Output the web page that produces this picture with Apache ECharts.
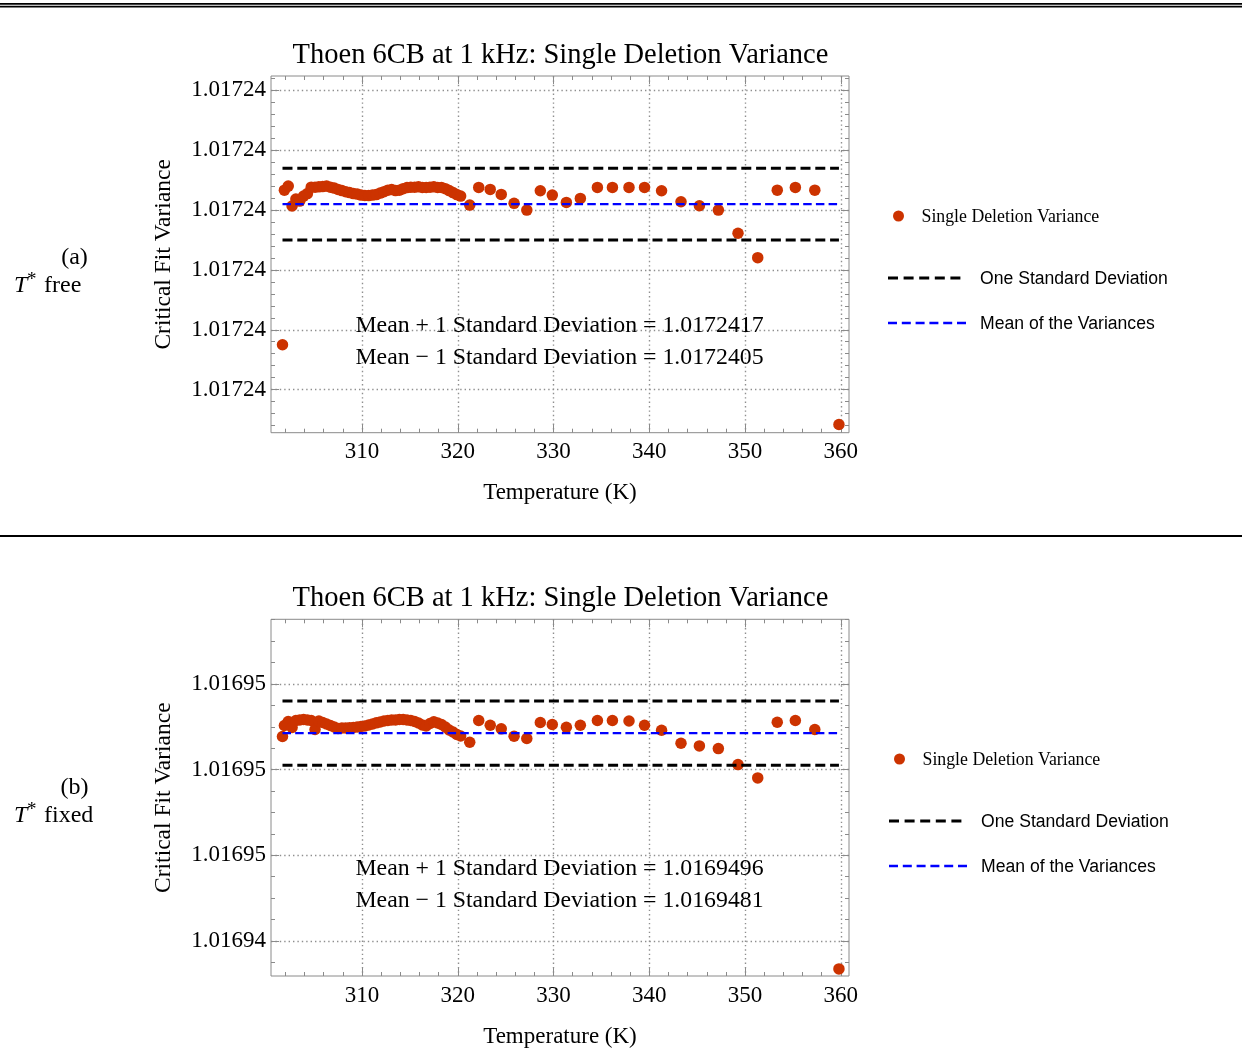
<!DOCTYPE html>
<html>
<head>
<meta charset="utf-8">
<script src="https://cdn.jsdelivr.net/npm/echarts@6/dist/echarts.min.js"></script>
<style>
  html, body { margin: 0; padding: 0; background: #ffffff; }
  #chart { width: 1242px; height: 1053px; }
</style>
</head>
<body>
<div id="chart"></div>
<script>
// Temperatures (K) of the single-deletion runs, shared by both panels
const temps = [
  301.7,
  301.9, 302.3, 302.7, 303.1, 303.5, 303.9, 304.3, 304.7, 305.1, 305.5,
  305.9, 306.3, 306.7, 307.1, 307.5, 307.9, 308.3, 308.7, 309.1, 309.5,
  309.9, 310.3, 310.7, 311.1, 311.5, 311.9, 312.3, 312.7, 313.1, 313.5,
  313.9, 314.3, 314.7, 315.1, 315.5, 315.9, 316.3, 316.7, 317.1, 317.5,
  317.9, 318.3, 318.7, 319.1, 319.5, 319.9, 320.3,
  321.25, 322.19, 323.39, 324.54, 325.88, 327.21, 328.62, 329.87, 331.34, 332.80,
  334.58, 336.15, 337.88, 339.50, 341.28, 343.31, 345.23, 347.21, 349.26, 351.32,
  353.36, 355.25, 357.28, 359.8
];

// (a) T* free: critical fit variance after deleting each point
const varianceFree = [
  1.017238750,
  1.017241333, 1.017241400, 1.017241067, 1.017241183, 1.017241150, 1.017241233, 1.017241275, 1.017241383, 1.017241383, 1.017241388,
  1.017241392, 1.017241400, 1.017241383, 1.017241367, 1.017241345, 1.017241325, 1.017241308, 1.017241292, 1.017241275, 1.017241267,
  1.017241250, 1.017241245, 1.017241242, 1.017241250, 1.017241258, 1.017241283, 1.017241308, 1.017241333, 1.017241342, 1.017241325,
  1.017241333, 1.017241358, 1.017241375, 1.017241383, 1.017241383, 1.017241388, 1.017241378, 1.017241378, 1.017241383, 1.017241388,
  1.017241378, 1.017241378, 1.017241358, 1.017241325, 1.017241292, 1.017241258, 1.017241233,
  1.017241083, 1.017241378, 1.017241345, 1.017241262, 1.017241112, 1.017241000, 1.017241322, 1.017241250, 1.017241128, 1.017241195,
  1.017241378, 1.017241378, 1.017241378, 1.017241378, 1.017241322, 1.017241138, 1.017241072, 1.017241000, 1.017240612, 1.017240205,
  1.017241333, 1.017241378, 1.017241333, 1.017237417
];

// (b) T* fixed
const varianceFixed = [
  1.016948772,
  1.016949029, 1.016949123, 1.016948982, 1.016949146, 1.016949158, 1.016949170, 1.016949158, 1.016949146, 1.016948936, 1.016949135,
  1.016949099, 1.016949064, 1.016949029, 1.016948994, 1.016948959, 1.016948971, 1.016948971, 1.016948975, 1.016948982, 1.016948994,
  1.016949006, 1.016949018, 1.016949041, 1.016949064, 1.016949092, 1.016949111, 1.016949135, 1.016949146, 1.016949158, 1.016949158,
  1.016949170, 1.016949170, 1.016949158, 1.016949146, 1.016949123, 1.016949088, 1.016949041, 1.016949018, 1.016949076, 1.016949116,
  1.016949088, 1.016949053, 1.016948994, 1.016948924, 1.016948877, 1.016948819, 1.016948784,
  1.016948639, 1.016949146, 1.016949036, 1.016948952, 1.016948779, 1.016948725, 1.016949099, 1.016949053, 1.016948989, 1.016949036,
  1.016949146, 1.016949146, 1.016949135, 1.016949036, 1.016948919, 1.016948615, 1.016948554, 1.016948491, 1.016948117, 1.016947806,
  1.016949106, 1.016949146, 1.016948936, 1.016943345
];

// Mean +/- one standard deviation
const sdBoundsFree = [1.0172417, 1.0172405];
const sdBoundsFixed = [1.0169496, 1.0169481];

// Tick values
const tempTicks = [310, 320, 330, 340, 350, 360];
const varianceTicksFree = [1.017238, 1.017239, 1.017240, 1.017241, 1.017242, 1.017243];
const varianceTicksFixed = [1.016944, 1.016946, 1.016948, 1.016950];

const SERIF = '"Liberation Serif", "Times New Roman", serif';
const SANS = '"Liberation Sans", Arial, sans-serif';
const RED = '#cc3300';
const FRAME = '#8a8a8a';
const X_MIN = 300.5, X_MAX = 360.85;

// minor tick positions between the labelled ticks
function subTicks(major, parts, lo, hi) {
  const step = (major[1] - major[0]) / parts;
  const out = [];
  const start = major[0] - Math.floor((major[0] - lo) / step) * step;
  for (let v = start; v <= hi + step * 1e-6; v += step) {
    const k = Math.round((v - major[0]) / step);
    if (k % parts !== 0) out.push(+v.toPrecision(12));
  }
  return out;
}

const panels = [
  { top: 76, height: 356.7, yMin: 1.01723728, yMax: 1.01724324, values: varianceFree,
    bounds: sdBoundsFree, yTicks: varianceTicksFree, ySub: 5 },
  { top: 619.3, height: 356.7, yMin: 1.01694318, yMax: 1.01695151, values: varianceFixed,
    bounds: sdBoundsFixed, yTicks: varianceTicksFixed, ySub: 4 }
];

const dots = { color: '#8f8f8f', width: 1.4, type: [1.4, 3] };
const tempMinor = subTicks(tempTicks, 5, X_MIN, X_MAX);

const grid = [], xAxis = [], yAxis = [], series = [];

panels.forEach((p, g) => {
  grid.push({ left: 271, top: p.top, width: 578, height: p.height, show: true,
    borderColor: FRAME, borderWidth: 1, backgroundColor: 'transparent', containLabel: false,
    outerBoundsMode: 'none' });

  const yMinor = subTicks(p.yTicks, p.ySub, p.yMin, p.yMax);
  const tickStyle = { color: FRAME, width: 1 };

  const xb = { gridIndex: g, type: 'value', min: X_MIN, max: X_MAX,
    axisLine: { show: false }, splitLine: { show: false }, axisLabel: { show: false } };
  xAxis.push(
    Object.assign({}, xb, { position: 'bottom',
      axisTick: { show: true, inside: true, length: 8, customValues: tempTicks, lineStyle: tickStyle },
      axisLabel: { show: true, customValues: tempTicks, margin: 8, fontFamily: SERIF, fontSize: 23, color: '#000' },
      splitLine: { show: true, lineStyle: dots },
      name: 'Temperature (K)', nameLocation: 'middle', nameGap: 49, nameMoveOverlap: false,
      nameTextStyle: { fontFamily: SERIF, fontSize: 23, color: '#000' } }),
    Object.assign({}, xb, { position: 'bottom',
      axisTick: { show: true, inside: true, length: 4, customValues: tempMinor, lineStyle: tickStyle } }),
    Object.assign({}, xb, { position: 'top',
      axisTick: { show: true, inside: true, length: 8, customValues: tempTicks, lineStyle: tickStyle } }),
    Object.assign({}, xb, { position: 'top',
      axisTick: { show: true, inside: true, length: 4, customValues: tempMinor, lineStyle: tickStyle } })
  );

  const yb = { gridIndex: g, type: 'value', min: p.yMin, max: p.yMax, scale: true,
    axisLine: { show: false }, splitLine: { show: false }, axisLabel: { show: false } };
  yAxis.push(
    Object.assign({}, yb, { position: 'left',
      axisTick: { show: true, inside: true, length: 8, customValues: p.yTicks, lineStyle: tickStyle },
      axisLabel: { show: true, customValues: p.yTicks, margin: 5, fontFamily: SERIF, fontSize: 23, color: '#000',
        formatter: v => Number(v).toFixed(5) },
      splitLine: { show: true, lineStyle: dots },
      name: 'Critical Fit Variance', nameLocation: 'middle', nameGap: 95, nameMoveOverlap: false,
      nameTextStyle: { fontFamily: SERIF, fontSize: 23.5, color: '#000' } }),
    Object.assign({}, yb, { position: 'left',
      axisTick: { show: true, inside: true, length: 4, customValues: yMinor, lineStyle: tickStyle } }),
    Object.assign({}, yb, { position: 'right',
      axisTick: { show: true, inside: true, length: 8, customValues: p.yTicks, lineStyle: tickStyle } }),
    Object.assign({}, yb, { position: 'right',
      axisTick: { show: true, inside: true, length: 4, customValues: yMinor, lineStyle: tickStyle } })
  );

  const ax = { xAxisIndex: 4 * g, yAxisIndex: 4 * g };
  const t0 = temps[0], t1 = temps[temps.length - 1];
  const mean = (p.bounds[0] + p.bounds[1]) / 2;

  series.push(Object.assign({ type: 'scatter', name: 'Single Deletion Variance', symbol: 'circle',
    symbolSize: 11.5, itemStyle: { color: RED, opacity: 1 }, z: 2, silent: true,
    data: temps.map((t, i) => [t, p.values[i]]) }, ax));

  p.bounds.forEach(b => {
    series.push(Object.assign({ type: 'line', name: 'One Standard Deviation', showSymbol: false, z: 3, silent: true,
      lineStyle: { color: '#000', width: 3, type: [10, 4.8] }, data: [[t0, b], [t1, b]] }, ax));
  });
  series.push(Object.assign({ type: 'line', name: 'Mean of the Variances', showSymbol: false, z: 4, silent: true,
    lineStyle: { color: '#0000ff', width: 2.3, type: [8.5, 4.2] }, data: [[t0, mean], [t1, mean]] }, ax));
});

function txt(text, x, y, font, align, extra) {
  return Object.assign({ type: 'text', silent: true, z: 10,
    style: { text: text, x: x, y: y, font: font, fill: '#000',
      align: align || 'left', verticalAlign: 'middle',
      textAlign: align || 'left', textVerticalAlign: 'middle' } }, extra || {});
}

const graphic = [
  { type: 'rect', silent: true, shape: { x: 0, y: 3, width: 1242, height: 1.7 }, style: { fill: '#000' } },
  { type: 'rect', silent: true, shape: { x: 0, y: 5.8, width: 1242, height: 1.6 }, style: { fill: '#000' } },
  { type: 'rect', silent: true, shape: { x: 0, y: 535, width: 1242, height: 1.9 }, style: { fill: '#000' } }
];

const panelText = [
  { dy: 0, dx: 0, tag: '(a)', mode: 'free', p: panels[0] },
  { dy: 543, dx: 1, tag: '(b)', mode: 'fixed', p: panels[1] }
];
const sideDy = [0, 530];

panelText.forEach((q, i) => {
  const dy = q.dy, dx = q.dx, sy = sideDy[i];
  graphic.push(txt('Thoen 6CB at 1 kHz: Single Deletion Variance', 560.5, 55.5 + dy, '28.5px ' + SERIF, 'center'));
  graphic.push(txt('Mean + 1 Standard Deviation = ' + q.p.bounds[0].toFixed(7), 559.5, 326 + dy, '23.8px ' + SERIF, 'center'));
  graphic.push(txt('Mean \u2212 1 Standard Deviation = ' + q.p.bounds[1].toFixed(7), 559.5, 357.5 + dy, '23.8px ' + SERIF, 'center'));

  graphic.push(txt(q.tag, 74.5, 258 + sy, '24px ' + SERIF, 'center'));
  graphic.push(txt('T', 14, 286 + sy, 'italic 24px ' + SERIF, 'left'));
  graphic.push(txt('*', 27, 280 + sy, '19px ' + SERIF, 'left'));
  graphic.push(txt(q.mode, 44, 286 + sy, '24px ' + SERIF, 'left'));

  // legend
  graphic.push({ type: 'circle', silent: true, shape: { cx: 898.5 + dx, cy: 216 + dy, r: 5.5 }, style: { fill: RED } });
  graphic.push(txt('Single Deletion Variance', 921.5 + dx, 217 + dy, '17.8px ' + SERIF, 'left'));
  graphic.push({ type: 'line', silent: true, shape: { x1: 888 + dx, y1: 278 + dy, x2: 962 + dx, y2: 278 + dy },
    style: { stroke: '#000', lineWidth: 3, lineDash: [10, 5.6] } });
  graphic.push(txt('One Standard Deviation', 980 + dx, 279 + dy, '17.6px ' + SANS, 'left'));
  graphic.push({ type: 'line', silent: true, shape: { x1: 888 + dx, y1: 323 + dy, x2: 966 + dx, y2: 323 + dy },
    style: { stroke: '#0000ff', lineWidth: 2.4, lineDash: [9, 4.8] } });
  graphic.push(txt('Mean of the Variances', 980 + dx, 324 + dy, '17.6px ' + SANS, 'left'));
});

const chart = echarts.init(document.getElementById('chart'), null, { renderer: 'canvas' });
chart.setOption({
  animation: false,
  backgroundColor: '#ffffff',
  grid: grid,
  xAxis: xAxis,
  yAxis: yAxis,
  series: series,
  graphic: graphic
});
</script>
</body>
</html>
